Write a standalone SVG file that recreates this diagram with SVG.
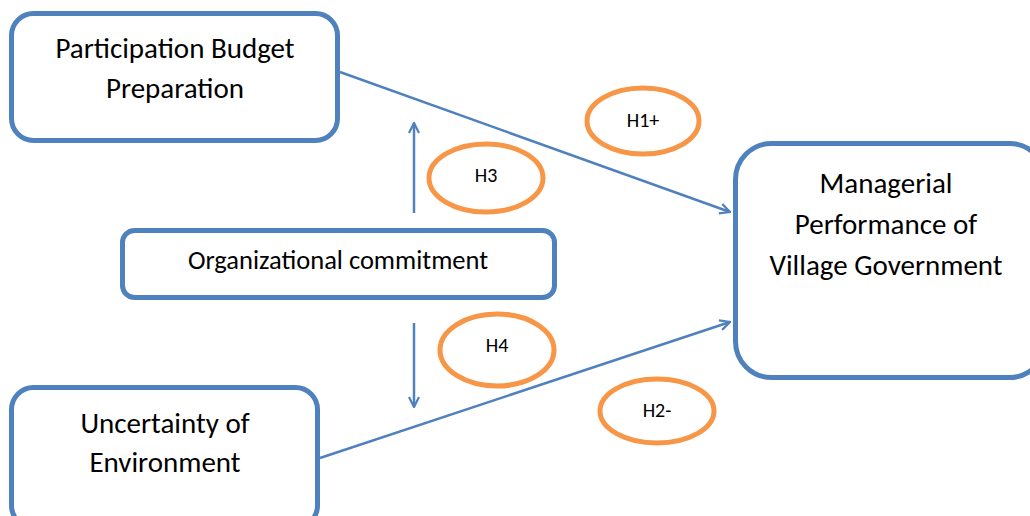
<svg xmlns="http://www.w3.org/2000/svg" width="1030" height="516" viewBox="0 0 1030 516">
<defs>
<marker id="arr" viewBox="0 0 12 12" refX="11" refY="6" markerWidth="12" markerHeight="12" markerUnits="userSpaceOnUse" orient="auto">
<path d="M1,1 L11,6 L1,11" fill="none" stroke="#4F81BD" stroke-width="2.2"/>
</marker>
</defs>
<style>
.box{fill:#fff;stroke:#4F81BD;stroke-width:5}
.ell{fill:#fff;stroke:#F79646;stroke-width:5}
.t{font-family:"Carlito","Liberation Sans",sans-serif;fill:#000;text-anchor:middle}
.big{font-size:29px}
.mid{font-size:26.5px}
.sm{font-size:20px}
.c{fill:none;stroke:#4F81BD;stroke-width:2.5;marker-end:url(#arr)}
</style>
<rect width="1030" height="516" fill="#fff"/>
<g id="connectors">
<line class="c" x1="340" y1="72" x2="730" y2="212"/>
<line class="c" x1="320" y1="458" x2="730" y2="322"/>
<line class="c" x1="414" y1="213" x2="414" y2="123"/>
<line class="c" x1="414" y1="323" x2="414" y2="407"/>
</g>
<g id="n-participation">
<rect class="box" x="11.5" y="13.5" width="326" height="127" rx="22"/>
<text class="t big" x="175" y="58">Participation Budget</text>
<text class="t big" x="175" y="98">Preparation</text>
</g>
<g id="n-managerial">
<rect class="box" x="735.5" y="143.5" width="310" height="234" rx="36"/>
<text class="t big" x="886" y="193">Managerial</text>
<text class="t big" x="886" y="234">Performance of</text>
<text class="t big" x="886" y="275">Village Government</text>
</g>
<g id="n-org">
<rect class="box" x="122.5" y="230.5" width="432" height="67" rx="12"/>
<text class="t mid" x="338" y="269">Organizational commitment</text>
</g>
<g id="n-uncertainty">
<rect class="box" x="11.5" y="387.5" width="306" height="140" rx="22"/>
<text class="t big" x="165" y="433">Uncertainty of</text>
<text class="t big" x="165" y="472">Environment</text>
</g>
<g id="h1">
<ellipse class="ell" cx="643" cy="121" rx="56" ry="33"/>
<text class="t sm" x="643" y="127">H1+</text>
</g>
<g id="h3">
<ellipse class="ell" cx="486" cy="178" rx="57" ry="34"/>
<text class="t sm" x="486" y="182">H3</text>
</g>
<g id="h4">
<ellipse class="ell" cx="497" cy="350" rx="57" ry="36"/>
<text class="t sm" x="497" y="352">H4</text>
</g>
<g id="h2">
<ellipse class="ell" cx="657" cy="411" rx="57" ry="32"/>
<text class="t sm" x="657" y="417">H2-</text>
</g>
</svg>
